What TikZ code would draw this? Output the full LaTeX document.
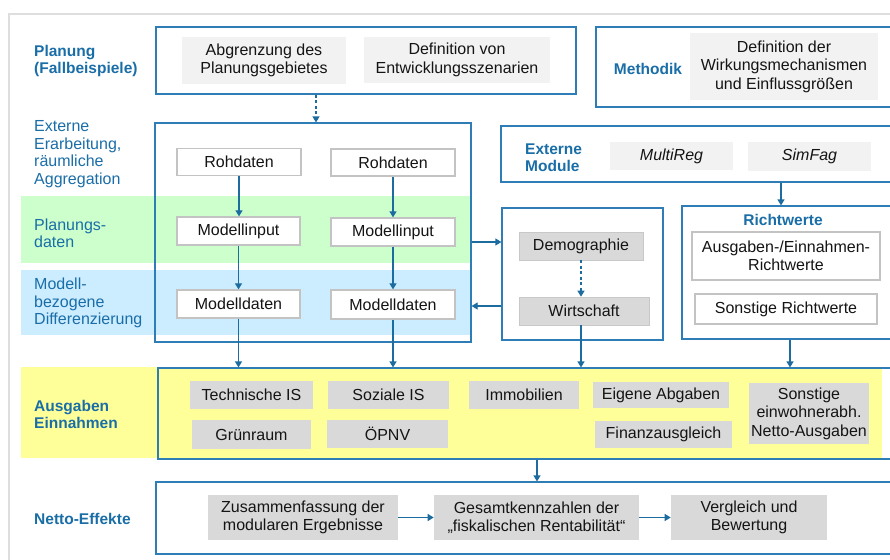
\documentclass[tikz,border=0pt]{standalone}
\usepackage{fontspec}
\setmainfont{Liberation Sans}
\usetikzlibrary{arrows.meta}

\definecolor{framecol}{RGB}{46,125,182}
\definecolor{arrowcol}{RGB}{28,108,160}
\definecolor{txtblue}{RGB}{26,110,168}
\definecolor{bandgreen}{RGB}{204,255,204}
\definecolor{bandblue}{RGB}{204,236,255}
\definecolor{bandyellow}{RGB}{255,255,153}
\definecolor{itemgray}{RGB}{217,217,217}
\definecolor{itemedge}{RGB}{200,200,200}
\definecolor{palegray}{RGB}{242,242,242}
\definecolor{wborder}{RGB}{195,195,195}
\definecolor{outerline}{RGB}{222,222,222}
\definecolor{inktext}{RGB}{20,20,20}

\begin{document}
\begin{tikzpicture}[
  x=1pt, y=-1pt,
  font=\fontsize{16}{18.5}\selectfont,
  sz/.style 2 args={minimum width=#1pt, minimum height=#2pt},
  frame/.style={draw=framecol, line width=1.2pt, inner sep=0pt},
  item/.style={fill=itemgray, draw=itemedge, line width=0.6pt, inner sep=0pt, align=center, text=inktext},
  pale/.style={fill=palegray, inner sep=0pt, align=center, text=inktext},
  wbox/.style={draw=wborder, line width=1.3pt, fill=white, inner sep=0pt, align=center, text=inktext},
  sidelab/.style={anchor=west, align=left, text=txtblue, inner sep=0pt,
                  font=\fontsize{16}{17.5}\selectfont},
  headlab/.style={anchor=west, align=left, text=txtblue, inner sep=0pt,
                  font=\fontsize{15.5}{17}\selectfont\bfseries},
  flow/.style={draw=arrowcol, line width=1.2pt, -{Triangle[length=6pt,width=7pt]}},
  dashflow/.style={flow, dash pattern=on 3pt off 2.5pt}
]
\path[use as bounding box, clip] (0,0) rectangle (890,559);
\fill[white] (0,0) rectangle (890,559);

% outer page frame
\draw[outerline, line width=2pt] (9,575) -- (9,14) -- (900,14);

% coloured row bands
\fill[bandgreen] (21,196) rectangle (470,263);
\fill[bandblue] (21,270) rectangle (470,335);
\fill[bandyellow] (21,367) rectangle (882,458);

% row labels
\node[headlab] (lplan) at (34,61) {Planung\\(Fallbeispiele)};
\node[sidelab] (lext) at (34,154) {Externe\\Erarbeitung,\\räumliche\\Aggregation};
\node[sidelab] (lplandat) at (34,233.5) {Planungs-\\daten};
\node[sidelab] (lmod) at (34,303) {Modell-\\bezogene\\Differenzierung};
\node[headlab] (laus) at (34,414) {Ausgaben\\Einnahmen};
\node[headlab] (lnetto) at (34,519) {Netto-Effekte};

% planning
\node[frame, sz={420}{67}] (planframe) at (366,60.5) {};
\node[pale, sz={164}{47}] (abgr) at (264,60.5) {Abgrenzung des\\Planungsgebietes};
\node[pale, sz={186}{46}] (defvon) at (457,60) {Definition von\\Entwicklungsszenarien};

% methodology
\node[frame, sz={304}{80}] (methframe) at (748,67) {};
\node[headlab, anchor=center] (methlab) at (648,69) {Methodik};
\node[pale, sz={188}{67}] (defder) at (784,66.5) {Definition der\\Wirkungsmechanismen\\und Einflussgrößen};

% data chain
\node[frame, sz={316}{219}] (dataframe) at (313,232.5) {};
\node[wbox, sz={124}{27}] (roh1) at (239,162) {Rohdaten};
\node[wbox, sz={124}{27}] (roh2) at (393,162.5) {Rohdaten};
\node[wbox, sz={123}{28}] (inp1) at (238.5,231) {Modellinput};
\node[wbox, sz={124}{28}] (inp2) at (393,232) {Modellinput};
\node[wbox, sz={123}{28}] (dat1) at (238.5,304) {Modelldaten};
\node[wbox, sz={124}{29}] (dat2) at (393,304.5) {Modelldaten};

% external modules
\node[frame, sz={399}{56}] (extframe) at (700.5,154) {};
\node[headlab] (extlab) at (525,158) {Externe\\Module};
\node[pale, sz={123}{28}] (multireg) at (671.5,156) {\itshape MultiReg};
\node[pale, sz={123}{29}] (simfag) at (809.5,156.5) {\itshape SimFag};

% demography / economy
\node[frame, sz={161}{132}] (dwframe) at (582.5,274) {};
\node[item, sz={124}{28}] (demo) at (581,246) {Demographie};
\node[item, sz={130}{28}] (wirt) at (584,311) {Wirtschaft};

% reference values
\node[frame, sz={218}{133}] (richtframe) at (791,272.5) {};
\node[headlab, anchor=center] (richtlab) at (783,220) {Richtwerte};
\node[wbox, sz={188}{48}] (aerw) at (786,256) {Ausgaben-/Einnahmen-\\Richtwerte};
\node[wbox, sz={182}{30}] (sonstrw) at (786,309) {Sonstige Richtwerte};

% expenditure / revenue
\node[frame, sz={742}{91}] (ausframe) at (529,413.5) {};
\node[item, draw=none, sz={123}{28}] (techis) at (251.5,395) {Technische IS};
\node[item, draw=none, sz={121}{28}] (sozis) at (388.5,395) {Soziale IS};
\node[item, draw=none, sz={110}{28}] (immo) at (524,395) {Immobilien};
\node[item, draw=none, sz={136}{26}] (eigab) at (661,395) {Eigene Abgaben};
\node[item, draw=none, sz={120}{61}] (sonstaus) at (809,413.5) {Sonstige\\einwohnerabh.\\Netto-Ausgaben};
\node[item, draw=none, sz={119}{29}] (gruen) at (251.5,434.5) {Grünraum};
\node[item, draw=none, sz={121}{28}] (oepnv) at (387.5,434) {ÖPNV};
\node[item, draw=none, sz={137}{27}] (finanz) at (663.5,434.5) {Finanzausgleich};

% net effects
\node[frame, sz={744}{72}] (nettoframe) at (528,518) {};
\node[item, draw=none, sz={190}{45}] (zusf) at (303,517.5) {Zusammenfassung der\\modularen Ergebnisse};
\node[item, draw=none, sz={205}{45}] (gesk) at (536.5,517.5) {Gesamtkennzahlen der\\„fiskalischen Rentabilität“};
\node[item, draw=none, sz={156}{45}] (vergl) at (749,517.5) {Vergleich und\\Bewertung};

% connectors
\draw[dashflow] (316,0 |- planframe.south) -- (316,0 |- dataframe.north);
\draw[flow] (roh1.south) -- (roh1.south |- inp1.north);
\draw[flow] (roh2.south) -- (roh2.south |- inp2.north);
\draw[flow] (inp1.south) -- (inp1.south |- dat1.north);
\draw[flow] (inp2.south) -- (inp2.south |- dat2.north);
\draw[flow] (dat1.south) -- (dat1.south |- ausframe.north);
\draw[flow] (dat2.south) -- (dat2.south |- ausframe.north);
\draw[flow] (dataframe.east |- 0,242) -- (dwframe.west |- 0,242);
\draw[flow] (dwframe.west |- 0,306) -- (dataframe.east |- 0,306);
\draw[dashflow] (demo.south) -- (demo.south |- wirt.north);
\draw[flow] (demo.south |- wirt.south) -- (demo.south |- ausframe.north);
\draw[flow] (781,0 |- extframe.south) -- (781,0 |- richtframe.north);
\draw[flow] (790,0 |- richtframe.south) -- (790,0 |- ausframe.north);
\draw[flow] (537,0 |- ausframe.south) -- (537,0 |- nettoframe.north);
\draw[flow] (zusf.east) -- (gesk.west);
\draw[flow] (gesk.east) -- (vergl.west);
\end{tikzpicture}
\end{document}
